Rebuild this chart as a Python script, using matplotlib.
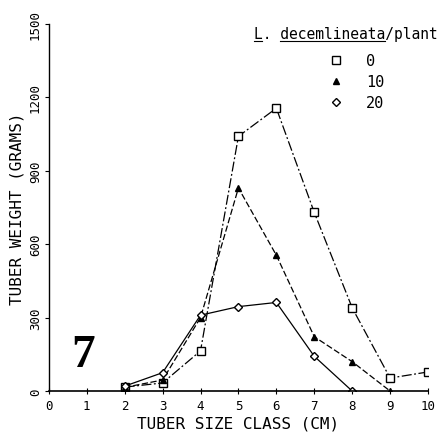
import matplotlib
matplotlib.use('Agg')
import matplotlib.pyplot as plt
from matplotlib.lines import Line2D

size_class = [2, 3, 4, 5, 6, 7, 8, 9, 10]
weight_0 = [16, 33, 164, 1041, 1156, 730, 340, 53, 78]
size_class_10 = [2, 3, 4, 5, 6, 7, 8, 9]
weight_10 = [15, 45, 300, 830, 555, 222, 120, 0]
size_class_20 = [2, 3, 4, 5, 6, 7, 8]
weight_20 = [20, 75, 310, 345, 362, 142, 0]

x_ticks = list(range(0, 11))
y_ticks = [0, 300, 600, 900, 1200, 1500]

plt.rcParams['font.family'] = ['DejaVu Sans Mono']

fig = plt.figure(figsize=(4.44, 4.39), dpi=100)
ax = fig.add_axes([0.110, 0.107, 0.854, 0.836])

ax.plot(size_class, weight_0, color='black', lw=0.9, dashes=(8, 2, 1.5, 2),
        marker='s', ms=5.5, mfc='white', mec='black', mew=1)
ax.plot(size_class_10, weight_10, color='black', lw=0.9, dashes=(5, 2),
        marker='^', ms=5, mfc='black', mec='black')
ax.plot(size_class_20, weight_20, color='black', lw=0.9,
        marker='D', ms=4, mfc='white', mec='black', mew=1)

ax.set_xlim(0, 10)
ax.set_ylim(0, 1500)
ax.set_xticks(x_ticks)
ax.set_yticks(y_ticks)
ax.set_xticklabels([str(t) for t in x_ticks], fontsize=9)
ax.set_yticklabels([str(t) for t in y_ticks], fontsize=9, rotation=90, va='center')
ax.tick_params(axis='x', direction='inout', length=5, width=0.8, pad=3)
ax.tick_params(axis='y', direction='out', length=3, width=0.8, pad=2)
for s in ['top', 'right']:
    ax.spines[s].set_visible(False)
ax.spines['left'].set_linewidth(1)
ax.spines['bottom'].set_linewidth(1.2)

ax.set_xlabel('TUBER SIZE CLASS (CM)', fontsize=11.5, labelpad=3)
ax.set_ylabel('TUBER WEIGHT (GRAMS)', fontsize=11.5, labelpad=3)

ax.text(0.6, 102, '7', fontsize=34, fontweight='bold', family='Liberation Serif')

title = 'L. decemlineata/plant'
t = ax.text(5.4, 1462, title, fontsize=10.5, va='center')

handles = [
    Line2D([], [], ls='none', marker='s', ms=5.5, mfc='white', mec='black', mew=1),
    Line2D([], [], ls='none', marker='^', ms=5, mfc='black', mec='black'),
    Line2D([], [], ls='none', marker='D', ms=4, mfc='white', mec='black', mew=1),
]
ax.legend(handles, ['0', '10', '20'], loc='upper left', bbox_to_anchor=(0.68, 0.958),
          frameon=False, fontsize=11, handletextpad=1.0, labelspacing=0.4)

# underline "L" and "decemlineata" (monospace, so equal char widths)
fig.canvas.draw()
bb = t.get_window_extent().transformed(fig.transFigure.inverted())
cw = bb.width / len(title)
uy = bb.y0 - 0.001
for a, b in [(0, 1), (3, 15)]:
    fig.add_artist(Line2D([bb.x0 + a * cw, bb.x0 + b * cw], [uy, uy],
                          color='black', lw=0.8, transform=fig.transFigure))

fig.savefig('out.png', dpi=100)
